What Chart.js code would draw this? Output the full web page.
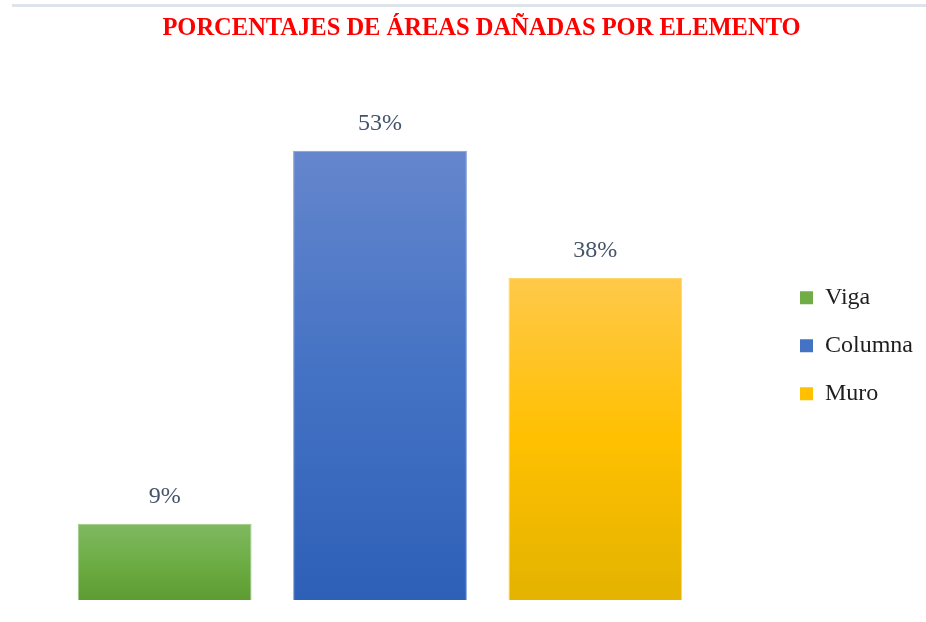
<!DOCTYPE html>
<html lang="es">
<head>
<meta charset="utf-8">
<title>Porcentajes de áreas dañadas por elemento</title>
<script src="https://cdn.jsdelivr.net/npm/chart.js@4.4.1/dist/chart.umd.min.js"></script>
<style>
  html, body { margin: 0; padding: 0; background: #ffffff; }
  #wrap { position: relative; width: 926px; height: 622px; overflow: hidden; }
  #rule { position: absolute; left: 12px; right: 0; top: 4px; height: 3px; background: #dfe4ea; }
  #chart { position: absolute; left: 0; top: 0; }
</style>
</head>
<body>
<div id="wrap">
  <div id="rule"></div>
  <canvas id="chart" width="926" height="622"></canvas>
</div>
<script>
// Elementos estructurales y porcentaje de área dañada de cada uno
const categories = ['Viga', 'Columna', 'Muro'];
const vigaValues = [9, null, null];
const columnaValues = [null, 53, null];
const muroValues = [null, null, 38];

const titleText = 'PORCENTAJES DE ÁREAS DAÑADAS POR ELEMENTO';
const SERIF = '"Liberation Serif", "Times New Roman", serif';

// Colores: [superior, medio, inferior] del degradado, color sólido de la leyenda, borde
const palettes = {
  Viga:    { stops: ['#80B961', '#6DAD45', '#5C9C32'], solid: '#70AD47', edge: '#9CCB80' },
  Columna: { stops: ['#6586CD', '#4472C4', '#2E60B8'], solid: '#4472C4', edge: '#7F9DDA' },
  Muro:    { stops: ['#FFC94A', '#FFC000', '#E3B300'], solid: '#FFC000', edge: '#FFD766' }
};

// Degradado vertical desde la parte alta de la barra hasta la base
function barFill(name) {
  const p = palettes[name];
  return (ctx) => {
    const chart = ctx.chart;
    if (!chart.chartArea || ctx.raw == null) return p.solid;
    const y = chart.scales.y;
    const top = y.getPixelForValue(ctx.raw);
    const base = y.getPixelForValue(0);
    if (!isFinite(top) || !isFinite(base) || top === base) return p.solid;
    const g = chart.ctx.createLinearGradient(0, top, 0, base);
    g.addColorStop(0, p.stops[0]);
    g.addColorStop(0.5, p.stops[1]);
    g.addColorStop(1, p.stops[2]);
    return g;
  };
}

function makeDataset(name, values) {
  return {
    label: name,
    data: values,
    backgroundColor: barFill(name),
    borderColor: palettes[name].edge,
    borderWidth: 1,
    categoryPercentage: 1,
    barPercentage: 0.807
  };
}

// Etiqueta de valor encima de cada barra
const valueLabels = {
  id: 'valueLabels',
  afterDatasetsDraw(chart) {
    const ctx = chart.ctx;
    ctx.save();
    ctx.font = '24px ' + SERIF;
    ctx.fillStyle = '#44546A';
    ctx.textAlign = 'center';
    ctx.textBaseline = 'middle';
    chart.data.datasets.forEach((ds, di) => {
      const meta = chart.getDatasetMeta(di);
      meta.data.forEach((bar, i) => {
        const v = ds.data[i];
        if (v == null) return;
        ctx.fillText(v + '%', bar.x, bar.y - 27);
      });
    });
    ctx.restore();
  }
};

new Chart(document.getElementById('chart'), {
  type: 'bar',
  data: {
    labels: categories,
    datasets: [
      makeDataset('Viga', vigaValues),
      makeDataset('Columna', columnaValues),
      makeDataset('Muro', muroValues)
    ]
  },
  options: {
    responsive: false,
    animation: false,
    layout: { padding: { top: 6, left: 40, right: 3, bottom: 22 } },
    scales: {
      x: { type: 'category', display: false, stacked: true, offset: true },
      y: {
        type: 'linear', position: 'left', stacked: true, min: 0, max: 60,
        display: true,
        grid: { display: false }, border: { display: false }, ticks: { display: false },
        afterFit(s) { s.width = 17; }
      },
      gap: {
        type: 'linear', axis: 'y', position: 'right', display: true,
        grid: { display: false }, border: { display: false }, ticks: { display: false },
        afterFit(s) { s.width = 73; }
      }
    },
    plugins: {
      title: {
        display: true,
        text: titleText,
        color: '#FF0000',
        font: { family: SERIF, size: 24.5, weight: 'bold' },
        padding: { top: 8, bottom: 48 }
      },
      legend: {
        position: 'right',
        align: 'center',
        fullSize: false,
        labels: {
          font: { family: SERIF, size: 24 },
          color: '#1E1E1E',
          boxWidth: 13,
          boxHeight: 13,
          padding: 24,
          generateLabels(chart) {
            return chart.data.datasets.map((ds, i) => ({
              text: ds.label,
              fillStyle: palettes[ds.label].solid,
              strokeStyle: palettes[ds.label].solid,
              lineWidth: 0,
              fontColor: '#1E1E1E',
              hidden: !chart.isDatasetVisible(i),
              datasetIndex: i
            }));
          }
        }
      },
      tooltip: { enabled: false }
    }
  },
  plugins: [valueLabels]
});
</script>
</body>
</html>
